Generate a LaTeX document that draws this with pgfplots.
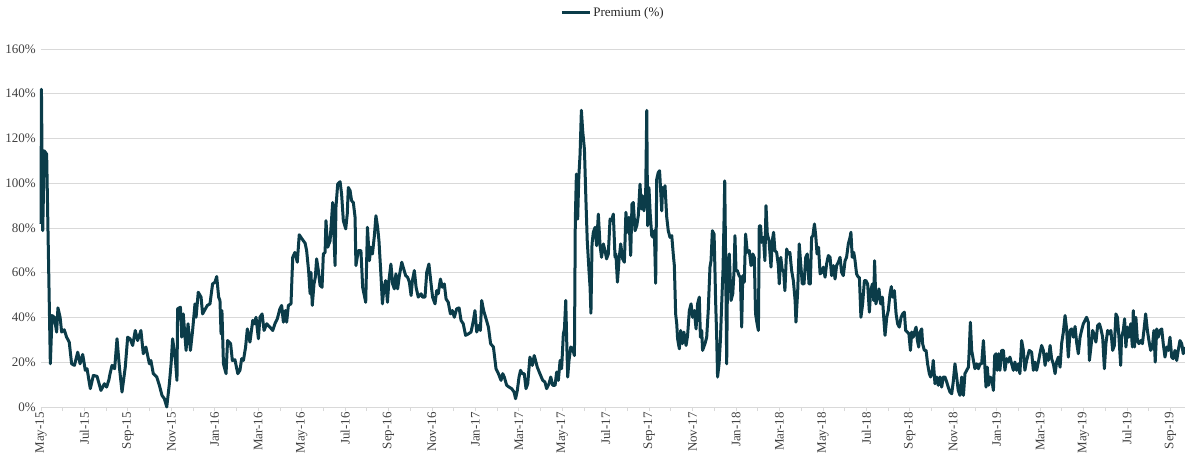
\documentclass[border=0pt]{standalone}
\usepackage{fontspec}
\setmainfont{Liberation Serif}
\usepackage{pgfplots}
\pgfplotsset{compat=1.18}
\definecolor{prem}{HTML}{0B3C49}
\definecolor{tickc}{HTML}{404040}
\definecolor{gridc}{HTML}{D9D9D9}
\begin{document}
\begin{tikzpicture}[font=\fontsize{13}{15}\selectfont]
\begin{axis}[
  scale only axis,
  width=1144pt, height=358pt,
  xmin=0, xmax=52.67, ymin=0, ymax=160,
  clip=false,
  axis x line*=bottom, axis y line*=left,
  x axis line style={draw=gridc, line width=0.8pt},
  y axis line style={draw=none},
  ytick={0,20,...,160},
  yticklabel={\pgfmathprintnumber{\tick}\%},
  xtick={0,2,...,52},
  xticklabels={May-15,Jul-15,Sep-15,Nov-15,Jan-16,Mar-16,May-16,Jul-16,Sep-16,Nov-16,Jan-17,Mar-17,May-17,Jul-17,Sep-17,Nov-17,Jan-18,Mar-18,May-18,Jul-18,Sep-18,Nov-18,Jan-19,Mar-19,May-19,Jul-19,Sep-19},
  minor xtick={1,3,...,51},
  tick align=outside,
  major tick length=4pt, minor tick length=4pt,
  xtick style={draw=gridc, line width=0.8pt},
  minor tick style={draw=gridc, line width=0.8pt},
  ytick style={draw=none},
  /pgf/number format/assume math mode=true,
  ticklabel style={font=\fontsize{13}{15}\selectfont, text=tickc},
  xticklabel style={rotate=90, anchor=east, inner sep=1pt},
  yticklabel style={inner sep=1pt},
  ymajorgrids,
  grid style={draw=gridc, line width=0.8pt},
  legend style={draw=none, fill=none, at={(0.5,1.1006)}, anchor=center,
    font=\fontsize{13}{15}\selectfont, text=black!85},
  legend image code/.code={\draw[#1, line width=3pt] (0pt,0pt) -- (28pt,0pt);},
  legend cell align=left,
]
\coordinate (SW) at (rel axis cs:0,0);
\addplot[prem, line width=3pt, line join=round, mark=none] coordinates {
(0.00,81.8)(0.02,142.0)(0.08,78.8)(0.15,114.5)(0.26,113.0)(0.43,19.3)(0.51,40.9)(0.61,40.1)(0.72,33.5)(0.78,44.3)
(0.88,40.1)(0.95,33.5)(1.07,34.5)(1.18,31.2)(1.30,29.0)(1.41,19.3)(1.54,18.6)(1.69,24.5)(1.80,19.3)(1.92,23.5)
(2.04,16.4)(2.12,17.1)(2.27,8.2)(2.41,14.1)(2.58,13.7)(2.76,7.4)(2.92,10.4)(3.02,8.9)(3.12,11.9)(3.18,14.9)
(3.27,18.6)(3.39,17.1)(3.50,30.5)(3.61,17.8)(3.73,6.7)(3.88,17.8)(3.99,31.2)(4.10,30.5)(4.22,27.5)(4.34,34.2)
(4.45,29.7)(4.60,34.2)(4.71,23.8)(4.83,26.8)(4.99,19.3)(5.06,20.8)(5.17,14.9)(5.33,13.4)(5.45,9.7)(5.57,5.2)
(5.68,3.7)(5.79,0.0)(5.91,10.4)(5.99,19.3)(6.06,30.5)(6.19,20.8)(6.26,11.9)(6.29,43.9)(6.42,44.6)(6.48,31.2)
(6.55,41.6)(6.68,25.3)(6.77,37.2)(6.88,25.3)(6.98,34.2)(7.09,46.1)(7.14,40.1)(7.24,51.3)(7.37,49.1)(7.44,41.6)
(7.57,43.9)(7.66,45.4)(7.78,46.1)(7.90,55.0)(8.01,55.8)(8.09,58.3)(8.18,49.1)(8.24,47.6)(8.29,32.7)(8.33,43.1)
(8.40,19.3)(8.52,14.9)(8.59,29.7)(8.73,28.3)(8.81,20.8)(8.93,21.1)(9.06,14.9)(9.16,16.4)(9.24,21.6)(9.32,20.8)
(9.42,26.8)(9.50,34.9)(9.62,29.0)(9.75,38.7)(9.82,37.2)(9.90,40.1)(10.01,30.5)(10.08,40.1)(10.18,41.6)(10.27,34.2)
(10.39,37.2)(10.54,35.7)(10.67,34.2)(10.77,37.2)(10.88,39.4)(11.00,43.9)(11.08,45.4)(11.16,37.9)(11.25,43.1)(11.31,37.9)
(11.39,45.4)(11.51,46.1)(11.59,66.9)(11.69,69.1)(11.80,64.7)(11.89,77.0)(12.02,75.1)(12.16,73.2)(12.23,69.9)(12.32,61.0)
(12.39,50.6)(12.43,60.2)(12.49,45.4)(12.57,55.0)(12.63,58.0)(12.69,66.2)(12.77,61.0)(12.85,54.3)(12.94,53.5)(13.00,68.4)
(13.08,69.1)(13.12,83.3)(13.20,71.4)(13.31,74.3)(13.43,91.4)(13.54,63.2)(13.58,89.2)(13.66,99.6)(13.77,100.7)(13.84,95.2)
(13.92,83.3)(14.03,79.6)(14.10,86.2)(14.15,98.1)(14.23,96.7)(14.30,92.2)(14.38,91.4)(14.46,84.8)(14.50,63.2)(14.61,69.9)
(14.73,69.9)(14.81,53.5)(14.95,46.8)(15.03,80.3)(15.12,65.4)(15.19,71.4)(15.26,68.4)(15.35,76.6)(15.42,85.5)(15.50,80.3)
(15.56,74.3)(15.64,61.0)(15.72,46.1)(15.79,53.5)(15.87,56.5)(15.95,46.8)(16.02,56.5)(16.11,63.9)(16.19,55.0)(16.27,52.8)
(16.34,59.5)(16.42,52.8)(16.50,58.7)(16.61,64.7)(16.70,61.7)(16.79,58.7)(16.88,58.0)(16.96,55.8)(17.04,49.8)(17.10,56.5)
(17.19,61.0)(17.27,53.5)(17.37,49.1)(17.50,50.6)(17.57,49.1)(17.68,49.1)(17.76,60.2)(17.86,63.9)(17.96,55.0)(18.03,49.1)
(18.14,46.1)(18.22,52.0)(18.29,50.6)(18.39,57.2)(18.48,53.5)(18.57,55.0)(18.65,48.3)(18.75,46.8)(18.85,41.6)(18.94,43.1)
(19.03,40.1)(19.14,43.9)(19.25,44.3)(19.34,38.7)(19.44,37.2)(19.55,32.0)(19.68,32.7)(19.80,33.5)(19.91,38.7)(19.98,43.1)
(20.06,33.5)(20.14,36.4)(20.23,34.2)(20.29,47.6)(20.38,43.1)(20.47,40.1)(20.60,35.7)(20.70,28.3)(20.83,26.8)(20.95,17.1)
(21.06,14.9)(21.18,11.9)(21.26,14.9)(21.33,13.4)(21.44,9.7)(21.55,8.9)(21.67,8.2)(21.78,6.7)(21.85,3.7)(21.93,7.4)
(22.01,13.4)(22.08,16.4)(22.16,14.9)(22.25,14.9)(22.33,8.2)(22.41,10.4)(22.51,22.3)(22.62,18.6)(22.71,23.0)(22.85,17.8)
(22.97,14.9)(23.10,11.9)(23.20,11.2)(23.28,8.2)(23.39,10.4)(23.47,13.4)(23.56,9.7)(23.67,9.7)(23.74,15.6)(23.82,11.9)
(23.90,20.8)(23.97,17.1)(24.05,32.7)(24.10,34.9)(24.16,47.6)(24.20,31.2)(24.25,13.4)(24.31,20.8)(24.39,26.8)(24.48,26.0)
(24.56,23.0)(24.60,83.3)(24.65,104.1)(24.71,84.0)(24.76,102.6)(24.82,113.0)(24.88,132.6)(24.94,123.4)(25.02,115.2)(25.09,92.2)
(25.15,74.3)(25.23,61.0)(25.28,53.5)(25.32,41.9)(25.37,72.9)(25.43,78.1)(25.51,80.3)(25.58,72.1)(25.66,86.2)(25.74,72.1)
(25.81,66.9)(25.89,72.9)(25.97,69.9)(26.04,66.2)(26.12,68.4)(26.20,84.0)(26.27,83.3)(26.35,86.2)(26.43,66.9)(26.47,68.4)
(26.54,55.8)(26.61,65.4)(26.69,72.9)(26.78,66.2)(26.86,64.7)(26.93,87.0)(27.00,78.1)(27.07,84.8)(27.15,67.7)(27.21,90.7)
(27.27,91.4)(27.35,78.8)(27.43,81.0)(27.50,85.5)(27.58,99.6)(27.64,88.5)(27.70,94.4)(27.76,87.7)(27.84,95.2)(27.89,132.6)
(27.93,81.0)(27.99,98.1)(28.05,86.2)(28.12,76.6)(28.19,75.8)(28.24,78.8)(28.30,55.3)(28.35,101.9)(28.42,104.8)(28.48,105.6)
(28.53,96.7)(28.58,87.7)(28.62,98.1)(28.68,94.4)(28.73,98.9)(28.81,84.8)(28.88,78.8)(28.96,75.8)(29.04,76.6)(29.11,68.4)
(29.16,63.2)(29.22,41.6)(29.27,37.2)(29.31,30.5)(29.39,26.0)(29.45,34.2)(29.53,28.3)(29.60,33.5)(29.70,27.5)(29.77,32.0)
(29.85,43.1)(29.93,46.1)(30.00,40.1)(30.08,43.1)(30.16,34.9)(30.23,46.1)(30.31,49.1)(30.36,31.2)(30.42,34.2)(30.46,25.3)
(30.57,28.3)(30.65,31.2)(30.72,43.1)(30.80,62.5)(30.85,65.4)(30.91,78.8)(30.99,77.3)(31.03,61.0)(31.06,47.6)(31.11,31.2)
(31.15,13.4)(31.22,19.3)(31.28,29.7)(31.34,46.1)(31.40,61.0)(31.45,84.8)(31.48,101.1)(31.52,66.9)(31.57,19.3)(31.61,61.0)
(31.69,68.4)(31.77,47.6)(31.85,50.6)(31.91,61.0)(31.95,76.6)(32.00,61.0)(32.06,61.0)(32.14,58.7)(32.20,58.0)(32.26,35.7)
(32.31,58.7)(32.38,55.8)(32.44,77.3)(32.52,69.1)(32.61,69.9)(32.69,63.2)(32.77,68.4)(32.84,66.9)(32.90,41.6)(32.97,37.2)
(33.03,34.2)(33.07,81.0)(33.13,81.0)(33.18,73.6)(33.26,75.8)(33.33,65.4)(33.38,90.0)(33.44,77.3)(33.52,74.3)(33.61,62.5)
(33.67,74.3)(33.73,78.1)(33.79,69.9)(33.87,69.1)(33.95,63.2)(33.99,55.0)(34.06,66.9)(34.13,61.0)(34.19,61.0)(34.25,52.0)
(34.33,70.6)(34.41,68.4)(34.48,69.1)(34.56,61.0)(34.64,56.5)(34.72,47.6)(34.76,37.9)(34.84,52.0)(34.91,72.9)(34.99,62.5)
(35.05,55.0)(35.13,55.0)(35.21,66.9)(35.28,68.4)(35.36,55.0)(35.42,55.0)(35.48,75.8)(35.54,76.6)(35.61,81.8)(35.67,76.6)
(35.73,68.4)(35.80,71.4)(35.87,59.5)(35.94,60.2)(36.02,62.5)(36.10,58.0)(36.17,63.9)(36.25,67.7)(36.33,66.9)(36.40,58.7)
(36.48,63.2)(36.56,57.2)(36.63,63.2)(36.71,64.7)(36.79,66.9)(36.86,60.2)(36.94,58.7)(37.02,65.4)(37.09,66.9)(37.17,72.9)
(37.25,75.8)(37.29,78.1)(37.35,66.9)(37.42,69.1)(37.48,65.4)(37.55,59.5)(37.63,58.0)(37.68,58.0)(37.75,40.1)(37.83,46.1)
(37.91,56.5)(37.98,56.5)(38.06,55.0)(38.14,42.4)(38.20,52.0)(38.28,55.0)(38.34,47.6)(38.38,65.4)(38.44,46.1)(38.51,49.1)
(38.58,52.8)(38.66,46.1)(38.74,49.1)(38.80,40.1)(38.86,32.0)(38.94,40.1)(39.01,43.1)(39.09,50.6)(39.15,53.8)(39.21,49.1)
(39.29,52.0)(39.37,41.6)(39.44,37.2)(39.52,35.7)(39.60,40.1)(39.67,41.6)(39.75,42.4)(39.81,34.2)(39.89,33.5)(39.96,32.7)
(40.03,25.3)(40.09,33.5)(40.16,31.2)(40.24,34.2)(40.29,35.7)(40.35,29.7)(40.41,26.8)(40.47,33.5)(40.55,34.9)(40.59,28.3)
(40.67,25.3)(40.75,25.3)(40.82,19.3)(40.90,14.9)(40.96,13.4)(41.04,16.4)(41.08,20.8)(41.16,10.4)(41.24,13.4)(41.31,9.7)
(41.39,13.4)(41.47,8.9)(41.54,13.4)(41.62,13.4)(41.70,11.2)(41.77,8.9)(41.85,6.7)(41.93,5.9)(42.00,11.2)(42.08,19.3)
(42.16,13.4)(42.23,7.4)(42.31,5.2)(42.39,13.4)(42.47,5.2)(42.54,14.9)(42.62,16.4)(42.70,17.8)(42.74,26.0)(42.79,37.9)
(42.85,25.3)(42.93,20.8)(43.00,17.1)(43.08,19.3)(43.16,17.1)(43.23,19.3)(43.31,19.3)(43.39,29.7)(43.45,19.3)(43.51,8.9)
(43.57,17.8)(43.63,9.7)(43.69,13.4)(43.77,12.6)(43.85,7.4)(43.91,23.0)(43.97,23.8)(44.03,16.4)(44.09,23.8)(44.15,16.4)
(44.23,25.3)(44.31,25.3)(44.38,16.4)(44.46,21.6)(44.54,20.1)(44.61,22.3)(44.69,19.3)(44.77,16.4)(44.84,20.1)(44.92,16.4)
(45.00,19.3)(45.07,14.9)(45.15,29.7)(45.23,25.3)(45.30,16.4)(45.38,20.8)(45.50,25.3)(45.61,24.5)(45.69,16.4)(45.76,20.1)
(45.84,16.4)(45.92,20.1)(45.99,23.8)(46.07,27.5)(46.15,25.3)(46.23,18.6)(46.30,23.8)(46.38,20.8)(46.46,27.5)(46.53,21.6)
(46.61,19.3)(46.69,14.9)(46.76,20.1)(46.84,22.3)(46.92,17.8)(46.99,28.3)(47.07,33.5)(47.15,40.9)(47.22,34.9)(47.30,22.3)
(47.38,34.2)(47.45,34.9)(47.53,31.2)(47.61,36.0)(47.68,29.0)(47.76,23.8)(47.84,31.2)(47.91,34.2)(47.99,37.2)(48.07,38.7)
(48.14,40.1)(48.22,37.9)(48.27,20.8)(48.34,26.8)(48.42,34.2)(48.50,32.0)(48.57,29.0)(48.65,36.4)(48.73,37.2)(48.80,34.9)
(48.88,31.2)(48.96,17.1)(49.03,28.3)(49.11,34.2)(49.19,32.7)(49.26,34.2)(49.34,25.3)(49.42,27.5)(49.49,41.6)(49.56,40.1)
(49.63,31.2)(49.71,18.6)(49.75,31.2)(49.83,34.2)(49.89,39.4)(49.95,26.8)(50.02,35.7)(50.09,31.2)(50.17,37.2)(50.25,26.8)
(50.29,43.1)(50.35,26.8)(50.41,40.1)(50.48,29.7)(50.55,28.3)(50.63,29.7)(50.71,28.3)(50.78,34.2)(50.86,41.6)(50.94,34.2)
(51.01,29.7)(51.09,25.3)(51.17,26.8)(51.24,34.2)(51.30,20.1)(51.37,34.9)(51.44,31.2)(51.52,34.2)(51.60,34.9)(51.67,28.3)
(51.75,22.3)(51.83,26.8)(51.90,25.3)(51.98,31.2)(52.06,22.3)(52.13,21.6)(52.21,25.3)(52.29,20.8)(52.36,25.3)(52.44,29.7)
(52.52,28.3)(52.59,23.8)(52.67,26.8)
};
\addlegendentry{Premium (\%)}
\end{axis}
\pgfresetboundingbox
\path[use as bounding box] ([xshift=-41pt,yshift=-50pt]SW) rectangle ++(1185pt,457pt);
\end{tikzpicture}
\end{document}
